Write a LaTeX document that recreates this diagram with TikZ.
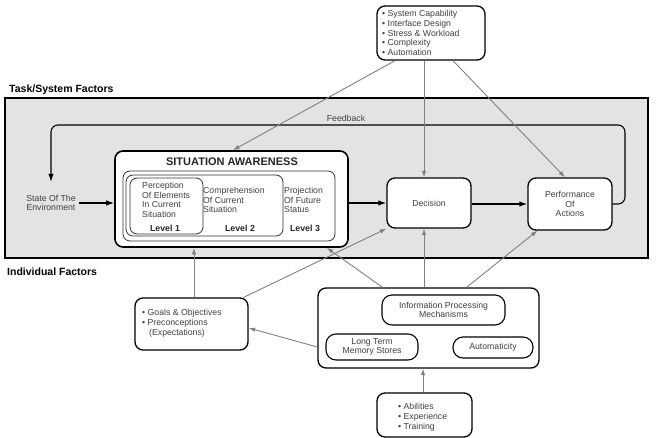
\documentclass[tikz,border=0pt]{standalone}
\usepackage{fontspec}
\setmainfont{Liberation Sans}
\usetikzlibrary{arrows.meta}
\begin{document}
\begin{tikzpicture}[x=1bp,y=-1bp,
  box/.style={draw, rounded corners=8bp, fill=white, line width=1.3bp, inner sep=0pt},
  ibox/.style={draw=black!80, rounded corners=7bp, line width=0.8bp, inner sep=0pt},
  txt/.style={text=black!75, font=\fontsize{8.7bp}{9.6bp}\selectfont, inner sep=0pt},
  lvl/.style={text=black!85, font=\fontsize{8.8bp}{10bp}\selectfont\bfseries, inner sep=0pt},
  head/.style={text=black, font=\fontsize{10.5bp}{12bp}\selectfont\bfseries, inner sep=0pt, anchor=west},
  barrow/.style={draw=black, line width=1.3bp, -{Latex[length=8bp,width=5.5bp]}},
  garrow/.style={draw=black!50, line width=0.9bp, -{Latex[length=6.5bp,width=4.5bp]}}
]
\useasboundingbox (0,0) rectangle (656,438);

% task/system factors region
\node[draw, line width=2.6bp, fill=black!11, minimum width=643bp, minimum height=160bp, inner sep=0pt] (tsf) at (326.5,178) {};
\node[head] (tsflab) at (9,90) {Task/System Factors};
\node[head] (indlab) at (7,272) {Individual Factors};

% top box
\node[box, minimum width=108bp, minimum height=54bp] (sys) at (431,33) {};
\node[txt, anchor=west, align=left, font=\fontsize{8.7bp}{9.8bp}\selectfont] (systxt) at (382,33)
  {• System Capability\\• Interface Design\\• Stress \& Workload\\• Complexity\\• Automation};

% situation awareness
\node[box, line width=1.6bp, minimum width=233bp, minimum height=96bp] (sa) at (231.5,199) {};
\node[font=\fontsize{11bp}{12bp}\selectfont\bfseries, text=black!85, inner sep=0pt] (satitle) at (232,162) {SITUATION AWARENESS};
\node[ibox, minimum width=212bp, minimum height=70bp] (ib3) at (229,206) {};
\node[ibox, minimum width=157bp, minimum height=61bp] (ib2) at (204.5,205.5) {};
\node[ibox, minimum width=73bp, minimum height=56bp] (ib1) at (166.5,206) {};
\node[txt, anchor=west, align=left] (l1t) at (142,200) {Perception\\Of Elements\\In Current\\Situation};
\node[lvl] (l1) at (165,228) {Level 1};
\node[txt, anchor=west, align=left] (l2t) at (203,200) {Comprehension\\Of Current\\Situation};
\node[lvl] (l2) at (240,228) {Level 2};
\node[txt, anchor=west, align=left] (l3t) at (284,200) {Projection\\Of Future\\Status};
\node[lvl] (l3) at (305,228) {Level 3};

% environment
\node[txt, align=center, inner sep=3bp] (state) at (51,203) {State Of The\\Environment};

% decision and performance
\node[box, minimum width=84bp, minimum height=50bp] (dec) at (429,203) {};
\node[txt] (dectxt) at (429,203) {Decision};
\node[box, minimum width=84bp, minimum height=52bp] (perf) at (570,204) {};
\node[txt, align=center] (perftxt) at (570,204) {Performance\\Of\\Actions};

% feedback
\coordinate (fbr) at (625,125);
\node[txt] (fblab) at (346,118) {Feedback};
\draw[barrow, line width=1.1bp, rounded corners=7bp] (perf.east) -| (fbr) -| ([yshift=10bp]state.north);

% main flow
\draw[barrow] (state.east) -- (sa.west |- state.east);
\draw[barrow] (sa.east |- dec.west) -- (dec.west);
\draw[barrow] (dec.east |- perf.west) -- (perf.west);

% task/system influences
\draw[garrow] ([xshift=-36bp]sys.south) -- ([xshift=1.5bp]sa.north);
\draw[garrow] ([xshift=-5bp]dec.north |- sys.south) -- ([xshift=-5bp]dec.north);
\draw[garrow] ([xshift=22bp]sys.south) -- ([xshift=-5bp]perf.north);

% goals
\node[box, minimum width=113bp, minimum height=52bp] (goals) at (191.5,324) {};
\node[txt, anchor=west, align=left, font=\fontsize{8.7bp}{10bp}\selectfont] (goalstxt) at (142,323)
  {• Goals \& Objectives\\• Preconceptions\\\hspace*{7bp}(Expectations)};
\draw[garrow] ([xshift=2.5bp]goals.north) -- ([xshift=2.5bp]goals.north |- sa.south);
\draw[garrow] ([xshift=-5bp]goals.north east) -- (dec.south west);

% individual factors
\node[box, minimum width=221bp, minimum height=80bp] (indiv) at (428.5,328) {};
\node[box, line width=1.1bp, rounded corners=10bp, minimum width=123bp, minimum height=30bp] (ipm) at (443.5,310) {};
\node[txt, align=center] (ipmtxt) at (443.5,310) {Information Processing\\Mechanisms};
\node[box, line width=1.1bp, rounded corners=10bp, minimum width=92bp, minimum height=26bp] (ltm) at (372,347) {};
\node[txt, align=center] (ltmtxt) at (372,347) {Long Term\\Memory Stores};
\node[box, line width=1.1bp, rounded corners=10bp, minimum width=80bp, minimum height=21bp] (auto) at (493,347.5) {};
\node[txt] (autotxt) at (493,347.5) {Automaticity};

\draw[garrow] ([xshift=-46bp]indiv.north) -- ([xshift=-22bp]sa.south east);
\draw[garrow] ([xshift=-5bp]dec.south |- indiv.north) -- ([xshift=-5bp]dec.south);
\draw[garrow] ([xshift=38bp]indiv.north) -- ([xshift=10bp]perf.south west);
\draw[garrow] ([yshift=-19bp]indiv.west) -- ([yshift=-4bp]goals.east);

% abilities
\node[box, minimum width=95bp, minimum height=44bp] (abil) at (424.5,415) {};
\node[txt, anchor=west, align=left, font=\fontsize{8.7bp}{10bp}\selectfont] (abiltxt) at (398,417)
  {• Abilities\\• Experience\\• Training};
\draw[garrow] ([xshift=-1.5bp]abil.north) -- ([xshift=-1.5bp]abil.north |- indiv.south);
\end{tikzpicture}
\end{document}
